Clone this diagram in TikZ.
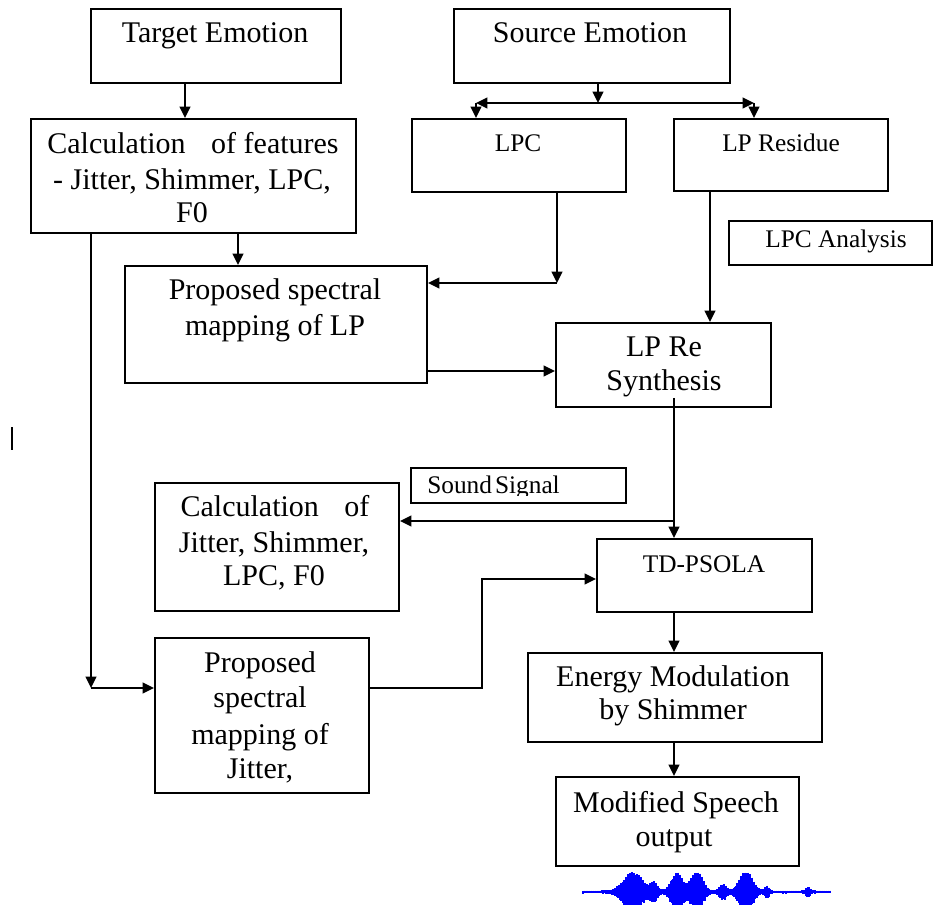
\documentclass[tikz,border=0pt]{standalone}
\usepackage{fontspec}
\setmainfont{Liberation Serif}
\usetikzlibrary{arrows.meta,fit,calc}
\begin{document}
\begin{tikzpicture}[x=0.75pt,y=-0.75pt,
  >={Triangle[length=8.5pt,width=8pt]},
  box/.style={draw, line width=1.4pt, inner sep=0pt, fit={#1}},
  big/.style={font=\fontsize{22.5}{27}\selectfont, inner sep=0pt, anchor=base},
  small/.style={font=\fontsize{19}{23}\selectfont, inner sep=0pt, anchor=base},
  arr/.style={line width=1.4pt, ->},
  ln/.style={line width=1.4pt},
  wave/.style={blue, line width=0.9pt}]
\useasboundingbox (0,0) rectangle (935,905);
\clip (0,0) rectangle (935,905);

% ---- blocks ----
\node[box={(91,9) (341,83)}]    (tgt)    {};
\node[box={(454,9) (730,83)}]   (src)    {};
\node[box={(31,119) (356,233)}] (feat)   {};
\node[box={(412,119) (626,192)}] (lpc)   {};
\node[box={(674,119) (888,191)}] (res)   {};
\node[box={(729,221) (932,265)}] (lpa)   {};
\node[box={(125,266) (427,383)}] (lpmap) {};
\node[box={(556,323) (771,407)}] (syn)   {};
\node[box={(411,468) (626,503)}] (snd)   {};
\node[box={(155,483) (399,611)}] (calcj) {};
\node[box={(597,539) (812,612)}] (psola) {};
\node[box={(155,638) (369,793)}] (jmap)  {};
\node[box={(528,653) (822,742)}] (energy){};
\node[box={(556,777) (799,866)}] (out)   {};

% ---- labels ----
\node[big] (tgt-t) at (215,43) {Target Emotion};
\node[big] (src-t) at (590,43) {Source Emotion};
\node[big] (feat-a) at (193,154) {Calculation\hspace{0.85em}of features};
\node[big] (feat-b) at (192,190) {- Jitter, Shimmer, LPC,};
\node[big] (feat-c) at (192,223) {F0};
\node[small] (lpc-t) at (518,152) {LPC};
\node[small] (res-t) at (781,152) {LP Residue};
\node[small] (lpa-t) at (836,248) {LPC Analysis};
\node[big] (lpmap-a) at (275,300) {Proposed spectral};
\node[big] (lpmap-b) at (275,336) {mapping of LP};
\node[big] (syn-a) at (664,357) {LP Re};
\node[big] (syn-b) at (664,391) {Synthesis};
\begin{scope}
  \clip (snd.north west) rectangle (626,495);
  \node[small, anchor=base west] (snd-t) at (427,493) {Sound\hspace{0.12em}Signal};
\end{scope}
\node[big] (calcj-a) at (275,516) {Calculation\hspace{0.85em}of};
\node[big] (calcj-b) at (274,552) {Jitter, Shimmer,};
\node[big] (calcj-c) at (274,585) {LPC, F0};
\node[small] (psola-t) at (704,572) {TD-PSOLA};
\node[big] (jmap-a) at (260,672) {Proposed};
\node[big] (jmap-b) at (260,707) {spectral};
\node[big] (jmap-c) at (260,744) {mapping of};
\node[big] (jmap-d) at (260,778) {Jitter,};
\node[big] (energy-a) at (673,686) {Energy Modulation};
\node[big] (energy-b) at (673,719) {by Shimmer};
\node[big] (out-a) at (676,812) {Modified Speech};
\node[big] (out-b) at (674,846) {output};

% ---- junction points ----
\coordinate (xA) at (185,0);
\coordinate (xB) at (238,0);
\coordinate (jc) at (91,688);
\coordinate (sj) at (598,103);
\coordinate (sl) at (476,103);
\coordinate (sr) at (754,103);
\coordinate (lc) at (557,283);
\coordinate (ly) at (0,371);
\coordinate (rx) at (710,0);
\coordinate (sb) at (674,521);
\coordinate (jx) at (482,579);

% ---- connectors ----
\draw[arr] (xA |- tgt.south) -- (xA |- feat.north);
\draw[arr] (xB |- feat.south) -- (xB |- lpmap.north);
\draw[arr] (jc |- feat.south) -- (jc);
\draw[arr] (jc) -- (jc -| jmap.west);

\draw[arr] (sj |- src.south) -- (sj);
\draw[ln, <->] (sl) -- (sr);
\draw[arr] (sl) -- (sl |- lpc.north);
\draw[arr] (sr) -- (sr |- res.north);

\draw[arr] (lc |- lpc.south) -- (lc);
\draw[arr] (lc) -- (lc -| lpmap.east);
\draw[arr] (ly -| lpmap.east) -- (ly -| syn.west);
\draw[arr] (rx |- res.south) -- (rx |- syn.north);

\draw[arr] ($(sb |- syn.south)+(0,-10)$) -- (sb |- psola.north);
\draw[arr] (sb) -- (sb -| calcj.east);
\draw[arr] (jc -| jmap.east) -- (jc -| jx) -- (jx) -- (jx -| psola.west);
\draw[arr] (sb |- psola.south) -- (sb |- energy.north);
\draw[arr] (sb |- energy.south) -- (sb |- out.north);

% small stray mark on the left margin
\draw[line width=1.4pt] (12,427) -- (12,450);

% ---- speech waveform under the output block ----
\draw[blue!55, line width=0.6pt] (583,892) -- (830,892);
\foreach \x in {583,...,830}{
  \pgfmathsetmacro\a{1.5
    + 19*exp(-min(((\x-633)/13)^2,20))
    + 8*exp(-min(((\x-654)/5)^2,20))
    + 18*exp(-min(((\x-677)/8)^2,20))
    + 20*exp(-min(((\x-697)/8)^2,20))
    + 7*exp(-min(((\x-723)/5)^2,20))
    + 20*exp(-min(((\x-746)/9)^2,20))
    + 5*exp(-min(((\x-767)/3)^2,20))
    + 4*exp(-min(((\x-808)/3)^2,20))}
  \pgfmathsetmacro\r{0.55+0.45*abs(sin(mod(\x,37)*97.3))}
  \pgfmathsetmacro\s{0.55+0.45*abs(cos(mod(\x,29)*61.7))}
  \draw[wave] (\x,{892-\a*\r}) -- (\x,{892+\a*\s});
}
\end{tikzpicture}
\end{document}
